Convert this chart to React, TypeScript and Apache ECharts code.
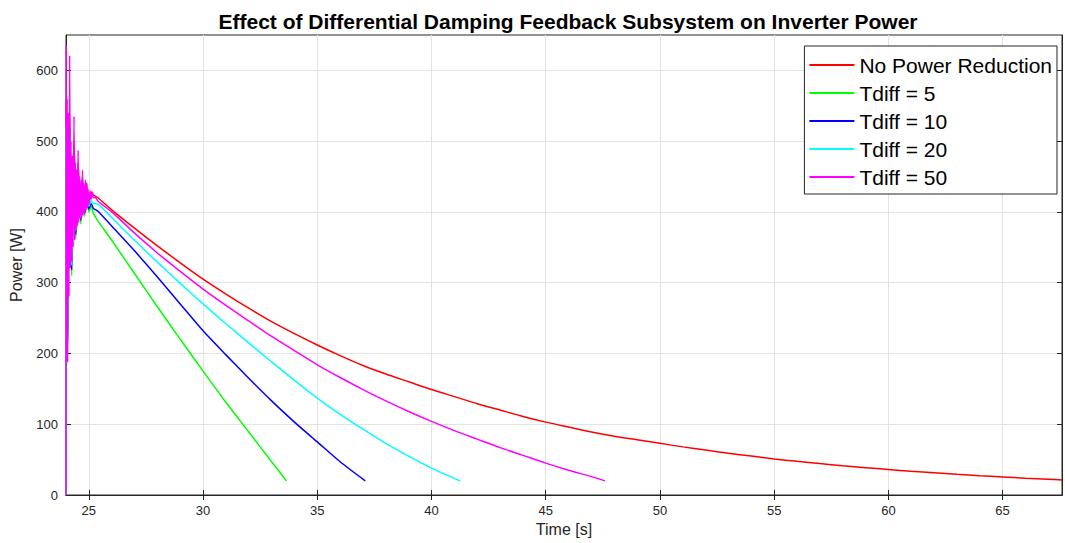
import { useEffect, useRef } from "react";
import * as echarts from "echarts";

const xTicks = [25, 30, 35, 40, 45, 50, 55, 60, 65];
const yTicks = [0, 100, 200, 300, 400, 500, 600];
const seriesNames = ["No Power Reduction", "Tdiff = 5", "Tdiff = 10", "Tdiff = 20", "Tdiff = 50"];
const seriesColors = ["#ff0000", "#00ff00", "#0000ff", "#00ffff", "#ff00ff"];

const redPoints: [number, number][] = [
  [24.0, 0], [24.01, 560], [24.06, 200], [24.16, 540], [24.25, 340], [24.35, 500], [24.44, 378],
  [24.53, 470], [24.65, 390], [24.72, 450], [24.82, 398], [24.9, 440], [25.0, 408], [25.1, 428],
  [25.2, 424], [25.4, 420], [26, 403], [27, 377], [28, 352], [29, 328], [30, 305], [31, 284],
  [32, 264], [33, 245], [34, 228], [35, 212], [36, 197], [37, 183], [38, 171], [39, 160], [40, 149],
  [41, 139], [42, 129], [43, 120], [44, 111], [45, 103], [46, 96], [47, 89], [48, 83], [49, 78],
  [50, 73], [51, 68], [52, 63.5], [53, 59], [54, 55], [55, 51], [56, 47.6], [57, 44.4], [58, 41.4],
  [59, 38.6], [60, 36], [61, 33.6], [62, 31.4], [63, 29.3], [64, 27.3], [65, 25.5], [66, 23.8],
  [67, 22.2], [67.6, 21.3],
];

const greenPoints: [number, number][] = [
  [24.0, 0], [24.01, 520], [24.06, 187], [24.16, 520], [24.25, 310], [24.35, 470], [24.43, 362],
  [24.53, 450], [24.65, 383], [24.72, 440], [24.82, 394], [24.9, 430], [25.0, 400], [25.1, 408],
  [25.2, 398], [25.4, 387], [26, 360], [27, 313], [28, 266], [29, 220], [30, 175], [31, 131],
  [32, 89], [33, 47], [33.65, 20],
];

const bluePoints: [number, number][] = [
  [24.0, 0], [24.01, 520], [24.06, 190], [24.16, 520], [24.25, 318], [24.35, 470], [24.43, 368],
  [24.53, 450], [24.65, 388], [24.72, 440], [24.82, 398], [24.9, 432], [25.0, 404], [25.1, 412],
  [25.2, 405], [25.4, 401], [26, 380], [27, 345], [28, 308], [29, 270], [30, 232], [31, 198],
  [32, 165], [33, 133], [34, 103], [35, 75], [36, 47], [37.1, 20],
];

const cyanPoints: [number, number][] = [
  [24.0, 0], [24.01, 520], [24.06, 195], [24.16, 520], [24.25, 325], [24.35, 470], [24.43, 374],
  [24.53, 450], [24.65, 392], [24.72, 440], [24.82, 402], [24.9, 434], [25.0, 408], [25.1, 416],
  [25.2, 412], [25.4, 411], [26, 392], [27, 360], [28, 329], [29, 299], [30, 270], [31, 242],
  [32, 215], [33, 188], [34, 162], [35, 137], [36, 114], [37, 93], [38, 73], [39, 55], [40, 38],
  [41.25, 20],
];

const magentaPoints: [number, number][] = [
  [24.0, 0], [24.01, 636], [24.03, 200], [24.05, 560], [24.07, 188], [24.1, 540], [24.13, 280],
  [24.16, 621], [24.19, 320], [24.22, 500], [24.25, 330], [24.28, 480], [24.31, 350], [24.35, 535],
  [24.38, 360], [24.41, 470], [24.44, 375], [24.47, 460], [24.5, 380], [24.53, 487], [24.56, 385],
  [24.59, 450], [24.62, 390], [24.66, 445], [24.69, 392], [24.72, 459], [24.75, 395], [24.78, 440],
  [24.81, 398], [24.85, 445], [24.88, 402], [24.91, 441], [24.94, 405], [24.97, 432], [25.0, 410],
  [25.05, 430], [25.1, 418], [25.15, 428], [25.2, 420], [25.3, 420], [25.4, 415], [26, 400],
  [27, 370], [28, 342], [29, 316], [30, 291], [31, 268], [32, 246], [33, 224], [34, 204], [35, 184],
  [36, 166], [37, 149], [38, 133], [39, 118], [40, 104], [41, 91], [42, 79], [43, 67], [44, 56],
  [45, 45], [46, 35], [47, 26], [47.6, 20],
];

const allPoints = [redPoints, greenPoints, bluePoints, cyanPoints, magentaPoints];

const FONT = "'Liberation Sans', Arial, Helvetica, sans-serif";
const AXIS_COLOR = "#262626";
const GRID_COLOR = "#e3e3e3";

export default function App() {
  const ref = useRef<HTMLDivElement>(null);

  useEffect(() => {
    if (!ref.current) return;
    const chart = echarts.init(ref.current, undefined, { renderer: "svg" });

    const xCommon = {
      type: "value" as const,
      min: 24,
      max: 67.6,
    };
    const yCommon = {
      type: "value" as const,
      min: 0,
      max: 650,
      interval: 100,
    };

    chart.setOption({
      animation: false,
      backgroundColor: "#ffffff",
      textStyle: { fontFamily: FONT },
      title: {
        text: "Effect of Differential Damping Feedback Subsystem on Inverter Power",
        left: 563,
        top: 6,
        textAlign: "center",
        textStyle: { fontSize: 21, fontWeight: "bold", color: "#000", fontFamily: FONT },
      },
      grid: {
        left: 63,
        right: 3,
        top: 35,
        bottom: 48,
        show: true,
        borderColor: AXIS_COLOR,
        borderWidth: 1,
        backgroundColor: "#fff",
      },
      legend: {
        orient: "vertical",
        right: 8,
        top: 46,
        padding: [5, 5, 3, 5],
        itemGap: 0,
        itemWidth: 45,
        itemHeight: 2,
        icon: "rect",
        backgroundColor: "#fff",
        borderColor: AXIS_COLOR,
        borderWidth: 1,
        borderRadius: 0,
        textStyle: { fontSize: 21, lineHeight: 28, color: "#000", fontFamily: FONT },
        data: seriesNames,
      },
      xAxis: [
        {
          ...xCommon,
          position: "bottom",
          name: "Time [s]",
          nameLocation: "middle",
          nameGap: 26,
          nameTextStyle: { fontSize: 16, color: AXIS_COLOR, fontFamily: FONT },
          axisLine: { show: true, lineStyle: { color: AXIS_COLOR, width: 1 } },
          axisTick: { show: true, inside: true, length: 5, customValues: xTicks, lineStyle: { color: AXIS_COLOR } },
          axisLabel: { customValues: xTicks, color: AXIS_COLOR, fontSize: 13, margin: 9, fontFamily: FONT },
          splitLine: { show: true, lineStyle: { color: GRID_COLOR, width: 1 } },
        },
        {
          ...xCommon,
          position: "top",
          axisLine: { show: true, lineStyle: { color: AXIS_COLOR, width: 1 } },
          axisTick: { show: true, inside: true, length: 5, customValues: xTicks, lineStyle: { color: AXIS_COLOR } },
          axisLabel: { show: false },
          splitLine: { show: false },
        },
      ],
      yAxis: [
        {
          ...yCommon,
          position: "left",
          name: "Power [W]",
          nameLocation: "middle",
          nameGap: 42,
          nameTextStyle: { fontSize: 16, color: AXIS_COLOR, fontFamily: FONT },
          axisLine: { show: true, lineStyle: { color: AXIS_COLOR, width: 1 } },
          axisTick: { show: true, inside: true, length: 5, customValues: yTicks, lineStyle: { color: AXIS_COLOR } },
          axisLabel: { customValues: yTicks, color: AXIS_COLOR, fontSize: 13, margin: 8, fontFamily: FONT },
          splitLine: { show: true, lineStyle: { color: GRID_COLOR, width: 1 } },
        },
        {
          ...yCommon,
          position: "right",
          axisLine: { show: true, lineStyle: { color: AXIS_COLOR, width: 1 } },
          axisTick: { show: true, inside: true, length: 5, customValues: yTicks, lineStyle: { color: AXIS_COLOR } },
          axisLabel: { show: false },
          splitLine: { show: false },
        },
      ],
      series: seriesNames.map((name, i) => ({
        name,
        type: "line",
        xAxisIndex: 0,
        yAxisIndex: 0,
        data: allPoints[i],
        showSymbol: false,
        symbol: "none",
        smooth: 0.25,
        color: seriesColors[i],
        lineStyle: { color: seriesColors[i], width: 1.5 },
        silent: true,
        z: 2 + i,
      })),
    });

    return () => {
      chart.dispose();
    };
  }, []);

  return (
    <div
      ref={ref}
      style={{ position: "fixed", left: 0, top: 0, width: 1065, height: 543, background: "#fff" }}
    />
  );
}
